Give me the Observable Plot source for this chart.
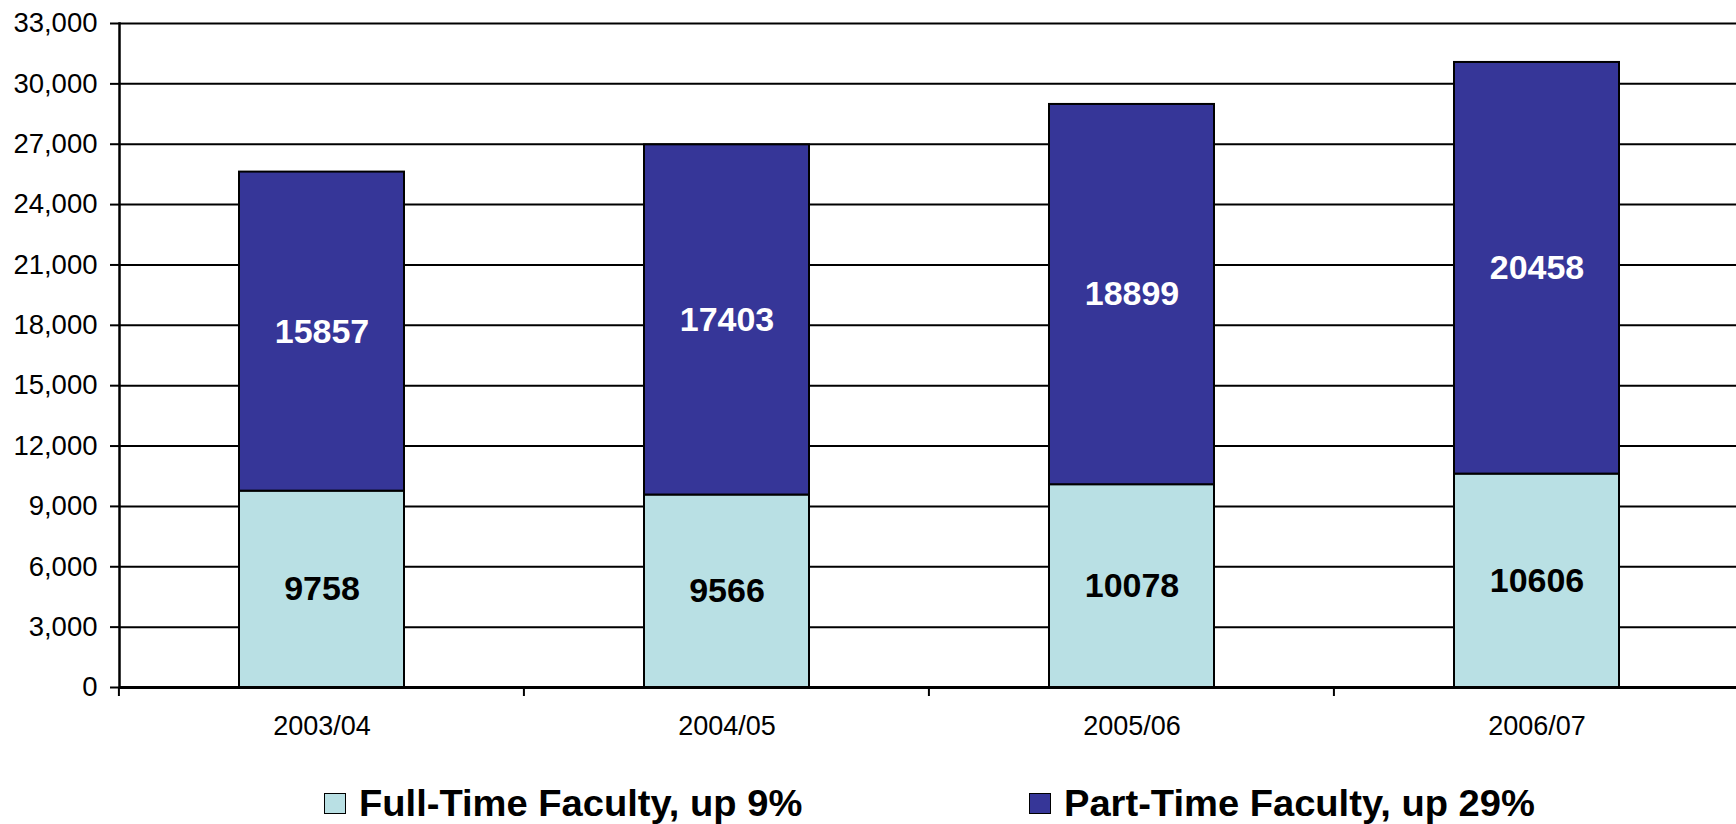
<!DOCTYPE html>
<html><head><meta charset="utf-8">
<script src="https://cdn.jsdelivr.net/npm/d3@7"></script>
<script src="https://cdn.jsdelivr.net/npm/@observablehq/plot@0.6"></script>
<style>
html,body{margin:0;padding:0;background:#fff;overflow:hidden;}
#chart svg{display:block;}
.legend{position:relative;height:64px;font-family:Arial,"Liberation Sans",sans-serif;font-weight:bold;font-size:37px;color:#000;}
.item{position:absolute;top:25px;display:flex;align-items:center;line-height:37px;white-space:nowrap;}
.item span{display:inline-block;transform:scaleX(1.03);transform-origin:left center;}
.swatch{width:20px;height:19px;border:1.5px solid #000;margin-right:13px;}
</style></head><body>
<div id="chart"></div>
<div class="legend" id="legend"></div>
<script>
const years = ["2003/04", "2004/05", "2005/06", "2006/07"];
const fullTime = [9758, 9566, 10078, 10606];
const partTime = [15857, 17403, 18899, 20458];
const seriesNames = ["Full-Time Faculty, up 9%", "Part-Time Faculty, up 29%"];
const seriesColors = ["#B9E0E4", "#363698"];
const labelColors = ["#000000", "#FFFFFF"];
const yTicks = [0, 3000, 6000, 9000, 12000, 15000, 18000, 21000, 24000, 27000, 30000, 33000];
const legendLeft = [324, 1029];

const rows = [];
years.forEach((yr, i) => {
  rows.push({year: yr, series: seriesNames[0], value: fullTime[i]});
  rows.push({year: yr, series: seriesNames[1], value: partTime[i]});
});

const padInner = 0.593;

const edgeTicks = (index, scales) => {
  const x = scales.x;
  const step = x(years[1]) - x(years[0]);
  const bw = step * (1 - padInner);
  const edges = years.map(d => x(d) - (step - bw) / 2);
  edges.push(x(years[years.length - 1]) + bw + (step - bw) / 2);
  const y0 = scales.y(0);
  const g = d3.create("svg:g");
  g.selectAll("line").data(edges).join("line")
    .attr("x1", d => d).attr("x2", d => d)
    .attr("y1", y0).attr("y2", y0 + 9)
    .attr("stroke", "#000").attr("stroke-width", 2);
  return g.node();
};

const plot = Plot.plot({
  width: 1736,
  height: 760,
  marginLeft: 119,
  marginRight: -3,
  marginTop: 23,
  marginBottom: 73,
  style: {fontFamily: 'Arial, "Liberation Sans", sans-serif', color: "#000", background: "#fff"},
  x: {domain: years, paddingInner: padInner, paddingOuter: padInner / 2, label: null},
  y: {domain: [0, 33000], label: null},
  color: {domain: seriesNames, range: seriesColors},
  marks: [
    Plot.gridY(yTicks, {stroke: "#000", strokeOpacity: 1, strokeWidth: 2}),
    Plot.barY(rows, Plot.stackY({x: "year", y: "value", z: "series", fill: "series", stroke: "#000", strokeWidth: 2})),
    Plot.text(rows, Plot.stackY({x: "year", y: "value", z: "series", text: d => String(d.value),
      fill: d => labelColors[seriesNames.indexOf(d.series)], fontSize: 34, fontWeight: "bold"})),
    Plot.axisY({ticks: yTicks, tickFormat: d3.format(","), tickSize: 9, tickPadding: 13, fontSize: 27.5, strokeWidth: 2, label: null}),
    Plot.axisX({tickSize: 0, tickPadding: 28, fontSize: 27, label: null}),
    Plot.frame({anchor: "left", stroke: "#000", strokeWidth: 2.5}),
    Plot.ruleY([0], {stroke: "#000", strokeWidth: 3}),
    edgeTicks
  ]
});
document.getElementById("chart").appendChild(plot);

const legend = document.getElementById("legend");
seriesNames.forEach((name, i) => {
  const item = document.createElement("div");
  item.className = "item";
  item.style.left = legendLeft[i] + "px";
  const sw = document.createElement("div");
  sw.className = "swatch";
  sw.style.background = seriesColors[i];
  const t = document.createElement("span");
  t.textContent = name;
  item.appendChild(sw);
  item.appendChild(t);
  legend.appendChild(item);
});
</script>
</body></html>
